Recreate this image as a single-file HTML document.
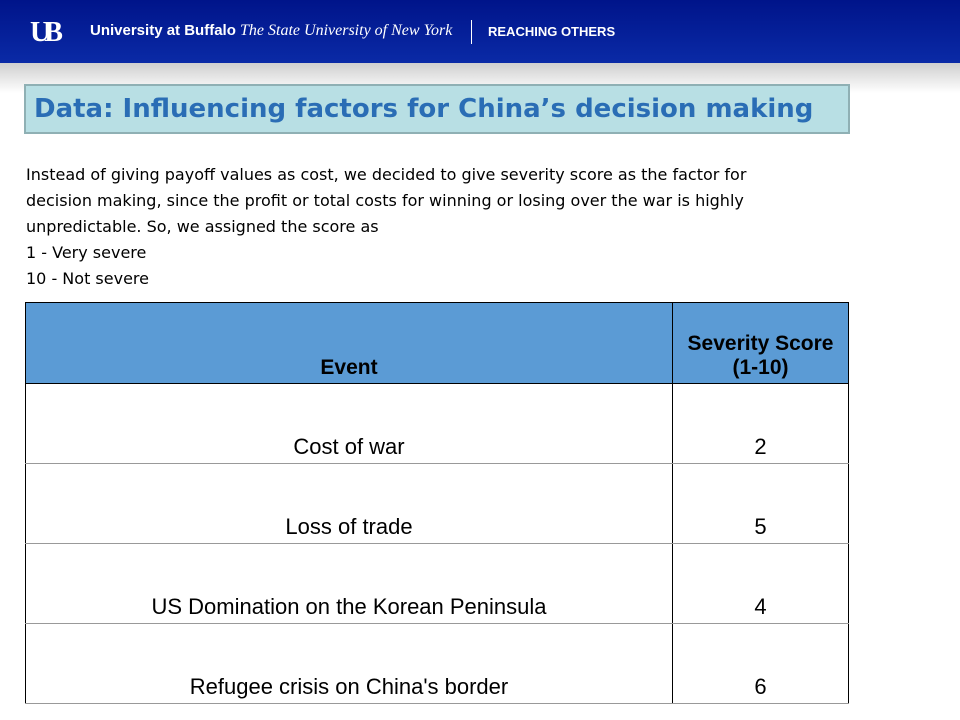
<!DOCTYPE html>
<html><head><meta charset="utf-8"><style>
body{margin:0;width:960px;height:720px;overflow:hidden;background:#fff;font-family:"Liberation Sans",sans-serif;position:relative}
#hdr{position:absolute;left:0;top:0;width:960px;height:63px;background:linear-gradient(#00148a,#0a2aa6)}
#band{position:absolute;left:0;top:63px;width:960px;height:30px;background:linear-gradient(#cfcfcf,#fff)}
#title{position:absolute;left:24px;top:84px;width:814px;height:46px;background:#b8dfe4;border:2px solid #8fb0b4;color:#2a6db5;font-family:"DejaVu Sans",sans-serif;font-weight:bold;font-size:26px;line-height:46px;padding-left:8px;box-sizing:content-box;white-space:nowrap;overflow:hidden}
#body{position:absolute;left:26px;top:162px;width:775px;line-height:26px;color:#000;font-family:"DejaVu Sans",sans-serif;font-size:16px}
table{position:absolute;left:25px;top:302px;border-collapse:collapse;font-size:22px}
td,th{border:1px solid #000;padding:0 0 3px 0;vertical-align:bottom;text-align:center}
th{background:#5b9bd5;height:77px;font-weight:bold;font-size:21px}
td{height:76px}
td{border-top:1px solid #999;border-bottom:1px solid #999}
</style></head><body>
<div id="hdr">
 <div style="position:absolute;left:30px;top:17px;color:#fff;font-family:'Liberation Serif',serif;font-weight:bold;font-size:28px;letter-spacing:-6px">UB</div>
 <div style="position:absolute;left:90px;top:22px;color:#fff;font-size:15px;font-weight:bold">University at Buffalo <span style="font-family:'Liberation Serif',serif;font-style:italic;font-weight:normal;font-size:16px">The State University of New York</span></div>
 <div style="position:absolute;left:471px;top:20px;width:1px;height:24px;background:#fff"></div>
 <div style="position:absolute;left:488px;top:24px;color:#fff;font-size:13px;font-weight:bold">REACHING OTHERS</div>
</div>
<div id="band"></div>
<div id="title">Data: Influencing factors for China’s decision making</div>
<div id="body">Instead of giving payoff values as cost, we decided to give severity score as the factor for decision making, since the profit or total costs for winning or losing over the war is highly unpredictable. So, we assigned the score as<br>1 - Very severe<br>10 - Not severe</div>
<table>
<tr><th style="width:646px">Event</th><th style="width:175px">Severity Score<br>(1-10)</th></tr>
<tr><td>Cost of war</td><td>2</td></tr>
<tr><td>Loss of trade</td><td>5</td></tr>
<tr><td>US Domination on the Korean Peninsula</td><td>4</td></tr>
<tr><td>Refugee crisis on China's border</td><td>6</td></tr>
</table>
</body></html>
